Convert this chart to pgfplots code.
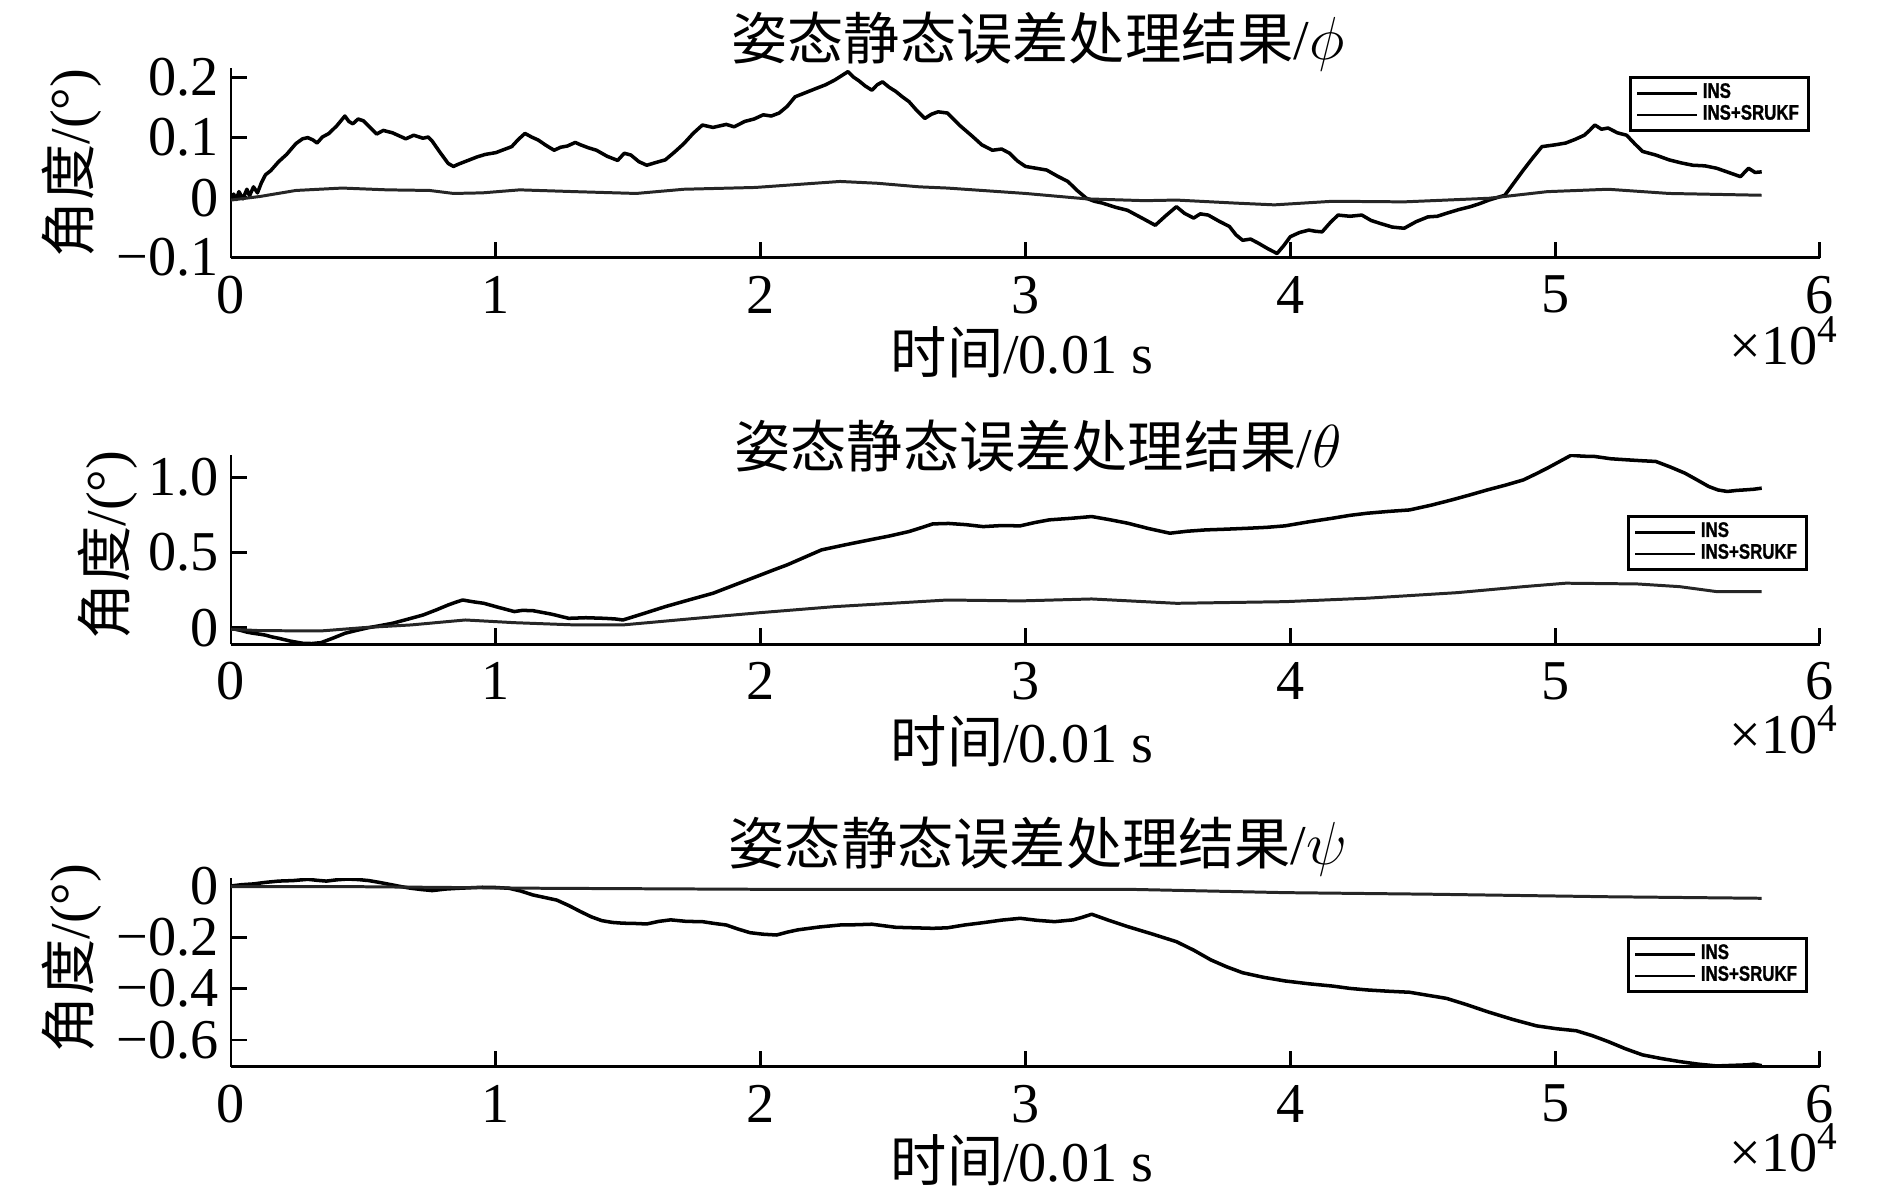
\documentclass[border=0pt]{standalone}
\usepackage{fontspec}
\setmainfont{Liberation Serif}
\setsansfont{Liberation Sans}
\newfontfamily\cjk{Noto Sans CJK SC}
\newfontfamily\legfont[FakeStretch=0.8,FakeBold=1.2]{Liberation Sans}
\usepackage{pgfplots}
\pgfplotsset{compat=1.18}

\newcommand{\lab}{\fontsize{16}{19}\selectfont}
\pgfplotsset{panel/.style={
 scale only axis,width=15.89cm,
 axis x line=bottom,axis y line=left,
 axis line style={-,line width=0.85pt,black},
 tick style={black,line width=0.85pt},
 tick align=inside,major tick length=0.16cm,
 xmin=0,xmax=6,xtick={0,1,2,3,4,5,6},
 xticklabels={0,1,2,3,4,5,6},
 xticklabel style={anchor=center,yshift=-0.37cm,inner sep=0pt},
 tick label style={font=\lab},
 legend style={draw=black,line width=0.9pt,fill=white,
  font=\fontsize{6}{6}\selectfont\legfont\bfseries,
  inner xsep=1.5pt,inner ysep=0.6pt,row sep=-1.5pt,anchor=north east,
  nodes={inner xsep=1.2pt,inner ysep=1pt}},
 legend cell align=left,
 legend image code/.code={\draw[black,line width=0.8pt] (0cm,0cm) -- (0.6cm,0cm);},
 ins/.style={black,line width=1.0pt,line join=round},
 kf/.style={black!85,line width=0.85pt,line join=round}}}

\begin{document}
\begin{tikzpicture}
\useasboundingbox (0,0) rectangle (18.9,-11.9);

% phi
\begin{axis}[panel,at={(2.31cm,-2.577cm)},anchor=south west,height=1.897cm,
 ymin=-0.1,ymax=0.216,ytick={-0.1,0,0.1,0.2},yticklabels={−0.1,0,0.1,0.2},
 legend style={at={(0.9937,0.958)}}]
\addplot[ins] coordinates {(0,-0.004)(0.01,0.006)(0.02,-0.003)(0.03,0.01)(0.045,-0.002)(0.06,0.014)(0.07,0.003)(0.085,0.018)(0.10,0.008)(0.115,0.025)(0.13,0.038)(0.15,0.045)(0.18,0.06)(0.21,0.072)(0.245,0.09)(0.27,0.098)(0.29,0.10)(0.31,0.096)(0.325,0.091)(0.345,0.101)(0.37,0.107)(0.40,0.12)(0.43,0.136)(0.445,0.127)(0.46,0.123)(0.48,0.131)(0.50,0.128)(0.525,0.117)(0.55,0.106)(0.575,0.112)(0.61,0.108)(0.635,0.103)(0.66,0.098)(0.69,0.104)(0.725,0.099)(0.745,0.101)(0.76,0.094)(0.79,0.075)(0.82,0.057)(0.84,0.052)(0.86,0.056)(0.895,0.062)(0.93,0.068)(0.96,0.072)(1.0,0.075)(1.03,0.08)(1.06,0.085)(1.085,0.097)(1.11,0.107)(1.135,0.101)(1.16,0.096)(1.19,0.087)(1.22,0.079)(1.245,0.084)(1.27,0.086)(1.30,0.092)(1.32,0.088)(1.35,0.083)(1.38,0.079)(1.42,0.069)(1.46,0.062)(1.485,0.074)(1.51,0.071)(1.54,0.06)(1.57,0.054)(1.60,0.058)(1.64,0.063)(1.675,0.076)(1.71,0.09)(1.745,0.107)(1.78,0.121)(1.82,0.117)(1.87,0.122)(1.90,0.118)(1.94,0.127)(1.975,0.131)(2.01,0.138)(2.04,0.136)(2.07,0.141)(2.10,0.152)(2.13,0.168)(2.17,0.175)(2.21,0.182)(2.245,0.188)(2.28,0.196)(2.305,0.203)(2.33,0.21)(2.35,0.201)(2.37,0.195)(2.395,0.186)(2.42,0.179)(2.44,0.188)(2.46,0.193)(2.485,0.184)(2.51,0.177)(2.535,0.168)(2.56,0.16)(2.59,0.145)(2.62,0.132)(2.645,0.139)(2.67,0.143)(2.705,0.141)(2.75,0.121)(2.80,0.102)(2.835,0.088)(2.875,0.079)(2.91,0.081)(2.94,0.074)(2.97,0.061)(3.0,0.052)(3.04,0.049)(3.08,0.046)(3.12,0.036)(3.16,0.027)(3.195,0.012)(3.23,-0.001)(3.26,-0.006)(3.29,-0.009)(3.34,-0.016)(3.385,-0.021)(3.44,-0.034)(3.49,-0.046)(3.53,-0.03)(3.57,-0.015)(3.60,-0.026)(3.635,-0.034)(3.66,-0.027)(3.69,-0.029)(3.73,-0.039)(3.77,-0.048)(3.795,-0.062)(3.82,-0.071)(3.85,-0.069)(3.88,-0.076)(3.915,-0.085)(3.95,-0.093)(3.975,-0.08)(4.0,-0.065)(4.035,-0.058)(4.07,-0.054)(4.095,-0.056)(4.12,-0.057)(4.15,-0.042)(4.18,-0.029)(4.225,-0.031)(4.27,-0.029)(4.305,-0.038)(4.34,-0.043)(4.385,-0.049)(4.43,-0.051)(4.475,-0.04)(4.52,-0.032)(4.555,-0.031)(4.59,-0.026)(4.635,-0.02)(4.68,-0.015)(4.715,-0.01)(4.75,-0.004)(4.78,0.0)(4.81,0.004)(4.845,0.025)(4.88,0.046)(4.915,0.066)(4.95,0.085)(5.0,0.088)(5.04,0.091)(5.075,0.097)(5.11,0.104)(5.13,0.112)(5.15,0.121)(5.175,0.114)(5.20,0.116)(5.235,0.108)(5.27,0.104)(5.30,0.09)(5.33,0.077)(5.38,0.071)(5.43,0.063)(5.475,0.058)(5.52,0.054)(5.565,0.053)(5.61,0.049)(5.655,0.042)(5.70,0.035)(5.73,0.049)(5.755,0.042)(5.78,0.043)};
\addlegendentry{INS}
\addplot[kf] coordinates {(0,-0.004)(0.11,0.002)(0.245,0.012)(0.42,0.016)(0.59,0.013)(0.75,0.012)(0.84,0.007)(0.95,0.008)(1.09,0.013)(1.30,0.01)(1.53,0.007)(1.71,0.014)(1.98,0.017)(2.30,0.027)(2.44,0.024)(2.60,0.018)(2.705,0.016)(3.0,0.007)(3.23,-0.002)(3.45,-0.005)(3.57,-0.004)(3.79,-0.009)(3.94,-0.012)(4.16,-0.006)(4.43,-0.007)(4.75,-0.001)(4.97,0.01)(5.20,0.014)(5.43,0.007)(5.78,0.004)};
\addlegendentry{INS+SRUKF}
\end{axis}

% theta
\begin{axis}[panel,at={(2.31cm,-6.443cm)},anchor=south west,height=1.893cm,
 ymin=-0.111,ymax=1.15,ytick={0,0.5,1.0},yticklabels={0,0.5,1.0},
 legend style={at={(0.9925,0.683)}}]
\addplot[ins] coordinates {(0,-0.004)(0.02,-0.012)(0.04,-0.02)(0.06,-0.03)(0.085,-0.038)(0.11,-0.044)(0.13,-0.05)(0.155,-0.062)(0.18,-0.071)(0.225,-0.09)(0.27,-0.104)(0.305,-0.106)(0.34,-0.10)(0.385,-0.07)(0.43,-0.038)(0.475,-0.018)(0.52,0.0)(0.565,0.014)(0.61,0.029)(0.665,0.055)(0.725,0.084)(0.775,0.118)(0.82,0.151)(0.85,0.17)(0.875,0.184)(0.915,0.172)(0.955,0.162)(1.01,0.135)(1.07,0.107)(1.10,0.115)(1.14,0.113)(1.21,0.09)(1.275,0.062)(1.34,0.066)(1.41,0.062)(1.45,0.058)(1.48,0.051)(1.56,0.095)(1.64,0.14)(1.73,0.185)(1.82,0.229)(1.91,0.29)(2.0,0.351)(2.05,0.385)(2.10,0.418)(2.165,0.468)(2.23,0.518)(2.32,0.552)(2.41,0.584)(2.485,0.61)(2.56,0.64)(2.605,0.665)(2.65,0.691)(2.71,0.694)(2.775,0.686)(2.84,0.673)(2.91,0.68)(2.98,0.678)(3.035,0.7)(3.09,0.718)(3.17,0.728)(3.25,0.74)(3.315,0.72)(3.385,0.696)(3.465,0.66)(3.545,0.629)(3.61,0.642)(3.68,0.651)(3.76,0.656)(3.84,0.662)(3.91,0.668)(3.98,0.678)(4.07,0.705)(4.16,0.729)(4.225,0.748)(4.29,0.762)(4.37,0.774)(4.45,0.784)(4.53,0.815)(4.61,0.851)(4.68,0.885)(4.745,0.918)(4.81,0.948)(4.88,0.984)(4.925,1.022)(4.97,1.062)(5.015,1.105)(5.06,1.148)(5.105,1.142)(5.15,1.14)(5.21,1.125)(5.27,1.118)(5.325,1.112)(5.38,1.107)(5.435,1.07)(5.49,1.029)(5.535,0.985)(5.58,0.94)(5.615,0.917)(5.65,0.907)(5.685,0.914)(5.72,0.918)(5.75,0.922)(5.78,0.929)};
\addlegendentry{INS}
\addplot[kf] coordinates {(0,-0.011)(0.11,-0.02)(0.34,-0.022)(0.50,0.0)(0.68,0.018)(0.885,0.051)(1.07,0.033)(1.30,0.018)(1.48,0.018)(1.755,0.062)(2.0,0.1)(2.28,0.14)(2.705,0.184)(2.98,0.178)(3.25,0.191)(3.57,0.162)(3.98,0.173)(4.29,0.196)(4.63,0.233)(4.88,0.273)(5.04,0.296)(5.31,0.291)(5.47,0.273)(5.61,0.24)(5.78,0.24)};
\addlegendentry{INS+SRUKF}
\end{axis}

% psi
\begin{axis}[panel,at={(2.31cm,-10.667cm)},anchor=south west,height=1.887cm,
 ymin=-0.704,ymax=0.031,ytick={-0.6,-0.4,-0.2,0},yticklabels={−0.6,−0.4,−0.2,0},
 legend style={at={(0.9925,0.687)}}]
\addplot[ins] coordinates {(0,0)(0.04,0.005)(0.085,0.008)(0.13,0.014)(0.18,0.019)(0.235,0.021)(0.29,0.026)(0.325,0.022)(0.36,0.019)(0.40,0.024)(0.44,0.027)(0.48,0.025)(0.52,0.021)(0.565,0.013)(0.61,0.004)(0.645,-0.003)(0.68,-0.009)(0.72,-0.014)(0.76,-0.018)(0.81,-0.012)(0.86,-0.009)(0.905,-0.007)(0.95,-0.005)(1.0,-0.006)(1.05,-0.009)(1.095,-0.02)(1.14,-0.035)(1.185,-0.045)(1.23,-0.055)(1.275,-0.076)(1.32,-0.10)(1.36,-0.12)(1.40,-0.135)(1.44,-0.142)(1.48,-0.145)(1.525,-0.146)(1.57,-0.148)(1.615,-0.138)(1.66,-0.132)(1.72,-0.138)(1.78,-0.139)(1.825,-0.146)(1.87,-0.152)(1.915,-0.168)(1.96,-0.182)(2.01,-0.188)(2.06,-0.191)(2.10,-0.18)(2.14,-0.171)(2.22,-0.16)(2.30,-0.152)(2.36,-0.151)(2.42,-0.149)(2.465,-0.155)(2.51,-0.161)(2.58,-0.163)(2.65,-0.165)(2.705,-0.163)(2.77,-0.152)(2.84,-0.143)(2.91,-0.133)(2.98,-0.126)(3.045,-0.134)(3.11,-0.139)(3.18,-0.132)(3.215,-0.122)(3.25,-0.11)(3.315,-0.134)(3.385,-0.158)(3.475,-0.186)(3.57,-0.217)(3.635,-0.25)(3.70,-0.288)(3.76,-0.315)(3.82,-0.338)(3.90,-0.356)(3.98,-0.37)(4.07,-0.381)(4.16,-0.39)(4.225,-0.399)(4.29,-0.405)(4.37,-0.41)(4.45,-0.414)(4.52,-0.426)(4.59,-0.438)(4.665,-0.462)(4.745,-0.49)(4.84,-0.52)(4.93,-0.545)(5.005,-0.556)(5.08,-0.564)(5.14,-0.583)(5.20,-0.606)(5.265,-0.634)(5.33,-0.658)(5.40,-0.672)(5.47,-0.684)(5.54,-0.694)(5.61,-0.701)(5.665,-0.699)(5.72,-0.697)(5.75,-0.694)(5.78,-0.70)};
\addlegendentry{INS}
\addplot[kf] coordinates {(0,-0.003)(0.5,-0.003)(1.18,-0.009)(2.0,-0.013)(2.71,-0.013)(3.385,-0.013)(3.98,-0.026)(4.52,-0.032)(5.20,-0.042)(5.78,-0.048)};
\addlegendentry{INS+SRUKF}
\end{axis}

% titles and labels
\node[font=\lab] at (10.38,-0.42) {{\cjk 姿态静态误差处理结果}/$\phi$};
\node[font=\lab] at (10.38,-4.46) {{\cjk 姿态静态误差处理结果}/$\theta$};
\node[font=\lab] at (10.38,-8.47) {{\cjk 姿态静态误差处理结果}/$\psi$};
\foreach \yy in {-3.52,-7.41,-11.60}
 \node[font=\lab] at (10.22,\yy) {{\cjk 时间}/0.01 s};
\foreach \yy in {-3.46,-7.35,-11.53}
 \node[font=\lab,inner sep=0pt] at (17.84,\yy) {×10\smash{\textsuperscript{4}}};
\node[font=\lab,rotate=90] at (0.72,-1.63) {{\cjk 角度}/(°)};
\node[font=\lab,rotate=90] at (1.08,-5.45) {{\cjk 角度}/(°)};
\node[font=\lab,rotate=90] at (0.72,-9.58) {{\cjk 角度}/(°)};
\end{tikzpicture}
\end{document}
